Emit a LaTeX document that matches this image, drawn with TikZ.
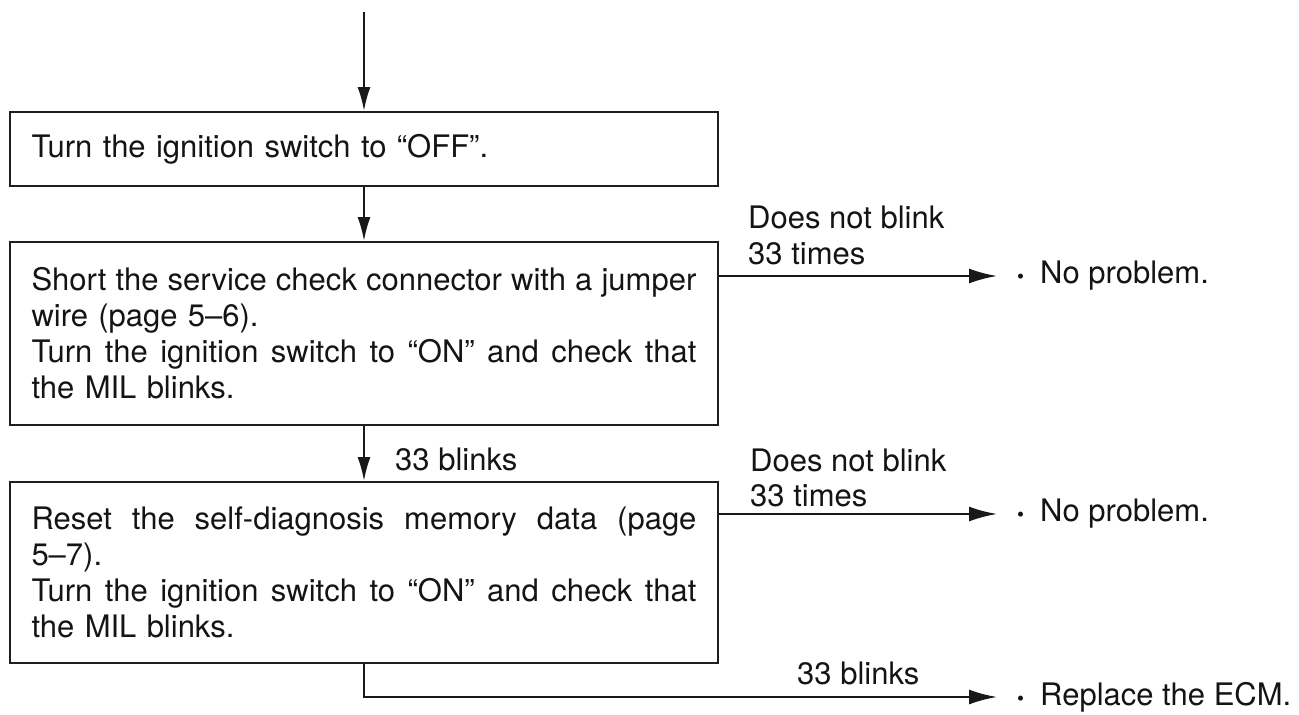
\documentclass[tikz,border=0pt]{standalone}
\usepackage{fontspec}
\setmainfont{TeX Gyre Heros}
\usetikzlibrary{arrows.meta}
\begin{document}
\begin{tikzpicture}[x=1pt,y=-1pt,
  every node/.style={font=\fontsize{31}{36}\selectfont, text=black!92},
  box/.style={draw=black!88, line width=1.9pt, text width=665pt, inner xsep=21.5pt, inner ysep=0pt, align=left},
  arr/.style={draw=black!90, line width=2.3pt, -{Latex[length=28pt,width=15pt]}},
  varr/.style={draw=black!90, line width=2.3pt, -{Latex[length=24pt,width=13pt]}},
  lbl/.style={inner sep=0pt, anchor=base west},
  res/.style={inner sep=0pt, anchor=west},
]
\useasboundingbox (0,0) rectangle (1299,715);
\newcommand{\jline}[1]{\makebox[665pt][s]{\spaceskip=0.278em plus 1em minus 0.2em\relax #1}}
\newcommand{\bul}{{\fontsize{20}{20}\selectfont\textbullet}\hspace{16pt}}

\node[box, minimum height=74pt] (b1) at (364,149) {Turn the ignition switch to “OFF”.};
\node[box, minimum height=183pt] (b2) at (364,333.5) {\jline{Short the service check connector with a jumper}\\
wire (page 5–6).\\
\jline{Turn the ignition switch to “ON” and check that}\\
the MIL blinks.};
\node[box, minimum height=181pt] (b3) at (364,572.5) {\jline{Reset the self-diagnosis memory data (page}\\
5–7).\\
\jline{Turn the ignition switch to “ON” and check that}\\
the MIL blinks.};

\coordinate (top) at (364,12);
\draw[varr] (top) -- (b1.north);
\draw[varr] (b1.south) -- (b2.north);
\draw[varr] (b2.south) -- (b3.north);
\node[lbl] (m1) at (395,470) {33 blinks};

\node[res] (np1) at (1017,276) {\bul No problem.};
\node[res] (np2) at (1017,514) {\bul No problem.};
\node[res] (ecm) at (1017,697) {\bul Replace the ECM.};

\node[lbl] (d1a) at (748,228) {Does not blink};
\node[lbl] (d1b) at (748,264) {33 times};
\node[lbl] (d2a) at (750,471) {Does not blink};
\node[lbl] (d2b) at (750,506) {33 times};
\node[lbl] (m2) at (797,684) {33 blinks};

\draw[arr] (b2.east |- np1.west) -- ([xshift=-20pt]np1.west);
\draw[arr] (b3.east |- np2.west) -- ([xshift=-20pt]np2.west);
\draw[arr] (b3.south) |- ([xshift=-20pt]ecm.west);
\end{tikzpicture}
\end{document}
